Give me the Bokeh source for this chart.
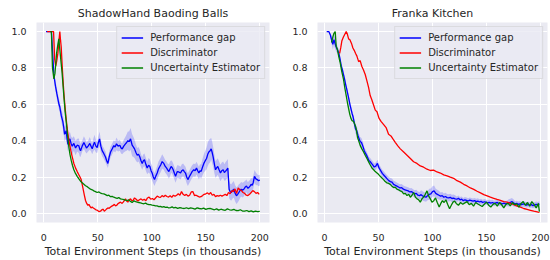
from bokeh.plotting import figure
from bokeh.layouts import row
from bokeh.models import Legend, LegendItem, Range1d, FixedTicker, NumeralTickFormatter, ColumnDataSource
from bokeh.embed import file_html
from bokeh.resources import INLINE

# ---------------- ShadowHand Baoding Balls ----------------
LB_X = [2, 4, 6, 7, 8, 9.3, 10.8, 12, 13, 14,
        14.8, 16.1, 17.6, 18.5, 19.2, 20.7, 21.5, 22.3, 23.2, 24.1,
        25.2, 26.3, 27.8, 29.4, 30.9, 32.4, 33.2, 34.0, 35.5, 37.1,
        38.3, 39.5, 41, 42.6, 43.7, 44.8, 45.8, 46.9, 48.2, 49.4,
        50.5, 51.6, 52.8, 54.0, 55.5, 57.1, 58.2, 59.3, 60.5, 61.8,
        63.3, 64.8, 66, 67.3, 68.8, 70.4, 71.5, 72.6, 74, 75.6,
        76.7, 77.8, 79, 80.3, 81.8, 83, 84.0, 85.3, 86.5, 87.7,
        88.9, 90, 91.1, 92.2, 93.2, 94.5, 95.7, 97, 98.2, 99.3,
        100.3, 101.4, 102.5, 103.7, 105, 106.2, 107.4, 108.5, 109.6, 111.1,
        112.3, 113.6, 114.7, 115.8, 116.9, 117.9, 119, 119.8, 121, 122,
        123.5, 125, 126.6, 127.8, 129, 130.1, 131.2, 132.3, 133.4, 134.6,
        135.8, 137.3, 138.9, 140.1, 141.4, 142.5, 143.6, 144.6, 145.7, 147,
        148.2, 149.5, 150.7, 151.8, 152.8, 154, 155, 155.9, 156.8, 158,
        159, 160, 161.1, 162.3, 163.6, 164.8, 166.1, 167.2, 168.2, 169.3,
        170.4, 171.6, 172.5, 173.5, 174.7, 175.9, 177.2, 178.4, 179.5, 180.6,
        181.7, 182.7, 184, 185.2, 186.5, 187.7, 188.8, 189.8, 191, 192,
        193, 193.9, 195.1, 196.4, 197.6, 198.8, 200]
LB_Y = [1.0, 1.0, 1.0, 1.0, 0.90, 0.76, 0.70, 0.66, 0.63, 0.60,
        0.585, 0.54, 0.505, 0.47, 0.435, 0.455, 0.41, 0.38, 0.40, 0.41,
        0.385, 0.37, 0.385, 0.36, 0.375, 0.372, 0.355, 0.345, 0.37, 0.39,
        0.375, 0.36, 0.37, 0.385, 0.37, 0.355, 0.375, 0.392, 0.37, 0.362,
        0.39, 0.41, 0.37, 0.345, 0.33, 0.31, 0.29, 0.275, 0.31, 0.338,
        0.355, 0.373, 0.365, 0.383, 0.37, 0.375, 0.36, 0.355, 0.37, 0.382,
        0.39, 0.40, 0.395, 0.41, 0.375, 0.365, 0.355, 0.335, 0.32, 0.325,
        0.31, 0.29, 0.275, 0.29, 0.295, 0.27, 0.25, 0.265, 0.258, 0.235,
        0.222, 0.2, 0.186, 0.205, 0.222, 0.245, 0.258, 0.27, 0.285, 0.275,
        0.26, 0.25, 0.24, 0.23, 0.245, 0.258, 0.25, 0.24, 0.22, 0.204,
        0.23, 0.228, 0.222, 0.235, 0.24, 0.23, 0.222, 0.2, 0.186, 0.2,
        0.213, 0.23, 0.24, 0.235, 0.249, 0.235, 0.222, 0.235, 0.231, 0.255,
        0.275, 0.29, 0.302, 0.325, 0.338, 0.345, 0.355, 0.335, 0.311, 0.27,
        0.24, 0.25, 0.258, 0.24, 0.222, 0.235, 0.24, 0.225, 0.231, 0.24,
        0.249, 0.133, 0.12, 0.115, 0.125, 0.133, 0.11, 0.097, 0.105, 0.115,
        0.125, 0.133, 0.128, 0.133, 0.145, 0.151, 0.138, 0.142, 0.15, 0.16,
        0.155, 0.169, 0.204, 0.19, 0.186, 0.18, 0.183]
LB_SD = [0, 0, 0, 0, 0.02, 0.03, 0.03, 0.03, 0.03, 0.03,
         0.03, 0.035, 0.04, 0.04, 0.04, 0.04, 0.04, 0.04, 0.04, 0.04,
         0.04, 0.045, 0.04, 0.04, 0.035, 0.04, 0.04, 0.035, 0.03, 0.035,
         0.035, 0.03, 0.03, 0.035, 0.03, 0.03, 0.035, 0.04, 0.035, 0.03,
         0.035, 0.04, 0.035, 0.03, 0.03, 0.03, 0.025, 0.025, 0.03, 0.03,
         0.03, 0.03, 0.03, 0.035, 0.03, 0.03, 0.03, 0.03, 0.035, 0.04,
         0.045, 0.05, 0.055, 0.06, 0.06, 0.055, 0.05, 0.045, 0.04, 0.04,
         0.04, 0.035, 0.035, 0.035, 0.035, 0.035, 0.035, 0.04, 0.04, 0.04,
         0.04, 0.035, 0.035, 0.035, 0.04, 0.04, 0.04, 0.04, 0.04, 0.035,
         0.035, 0.035, 0.035, 0.04, 0.04, 0.035, 0.035, 0.035, 0.035, 0.035,
         0.035, 0.035, 0.035, 0.035, 0.035, 0.035, 0.035, 0.035, 0.035, 0.035,
         0.035, 0.035, 0.035, 0.035, 0.035, 0.035, 0.035, 0.035, 0.04, 0.045,
         0.05, 0.055, 0.06, 0.065, 0.065, 0.065, 0.06, 0.06, 0.055, 0.05,
         0.045, 0.045, 0.045, 0.045, 0.045, 0.045, 0.045, 0.045, 0.05, 0.05,
         0.05, 0.05, 0.045, 0.045, 0.045, 0.045, 0.045, 0.045, 0.045, 0.045,
         0.04, 0.04, 0.04, 0.04, 0.035, 0.035, 0.035, 0.035, 0.035, 0.035,
         0.035, 0.035, 0.035, 0.035, 0.03, 0.03, 0.03]

LR_X = [3, 6, 9, 10, 11, 12, 13, 14, 14.8, 15.5,
        16.1, 17, 17.9, 18.7, 19.5, 20.5, 21.6, 22.7, 23.8, 25,
        26.3, 27.8, 29.4, 30.9, 32.4, 33.5, 34.6, 35.5, 36.4, 37.5,
        38.6, 39.7, 40.8, 41.7, 42.6, 43.7, 44.8, 45.8, 46.9, 48.2,
        49.4, 51, 52.5, 53.7, 55, 56, 57.1, 58.2, 59.3, 60.5,
        61.8, 63, 64.2, 65.3, 66.4, 67.5, 68.6, 69.8, 71, 72.2,
        73.5, 74.5, 75.6, 76.7, 77.8, 79, 80.3, 81.5, 82.7, 84,
        85.5, 87, 88.5, 90, 91.5, 93, 94.5, 96, 97.5, 99,
        100.5, 102, 103.5, 105, 106.5, 108, 109.5, 111, 112.5, 114,
        115.5, 117, 118.5, 120, 121.5, 123, 124.5, 126, 127.5, 129,
        130.5, 132, 133.5, 135, 136.5, 138, 139.5, 141, 142.5, 144,
        145.5, 147, 148.5, 150, 151.5, 153, 154.5, 156, 157.5, 159,
        160.5, 162, 163.5, 165, 166.5, 168, 169.5, 171, 172.5, 174,
        175.5, 177, 178.5, 180, 181.5, 183, 184.5, 186, 187.5, 189,
        190.5, 192, 193.5, 195, 196.5, 198, 199.5]
LR_Y = [1.0, 1.0, 1.0, 0.85, 0.81, 0.84, 0.88, 0.95, 1.0, 0.95,
        0.915, 0.81, 0.72, 0.65, 0.595, 0.53, 0.47, 0.42, 0.382, 0.345,
        0.311, 0.275, 0.249, 0.23, 0.213, 0.2, 0.186, 0.16, 0.133, 0.1,
        0.071, 0.055, 0.044, 0.05, 0.04, 0.03, 0.035, 0.03, 0.026, 0.02,
        0.018, 0.01, 0.012, 0.02, 0.023, 0.012, 0.018, 0.025, 0.03, 0.028,
        0.035, 0.04, 0.044, 0.05, 0.041, 0.045, 0.053, 0.058, 0.062, 0.055,
        0.062, 0.07, 0.08, 0.068, 0.062, 0.075, 0.08, 0.07, 0.072, 0.085,
        0.078, 0.068, 0.075, 0.08, 0.072, 0.078, 0.07, 0.085, 0.09, 0.078,
        0.082, 0.075, 0.085, 0.095, 0.09, 0.088, 0.098, 0.092, 0.1, 0.093,
        0.09, 0.097, 0.088, 0.1, 0.094, 0.1, 0.108, 0.1, 0.12, 0.105,
        0.098, 0.105, 0.095, 0.1, 0.118, 0.12, 0.098, 0.1, 0.095, 0.09,
        0.092, 0.098, 0.105, 0.108, 0.113, 0.105, 0.115, 0.1, 0.105, 0.092,
        0.098, 0.095, 0.1, 0.095, 0.1, 0.105, 0.098, 0.115, 0.108, 0.125,
        0.12, 0.135, 0.11, 0.14, 0.13, 0.125, 0.115, 0.11, 0.1, 0.098,
        0.105, 0.115, 0.125, 0.12, 0.11, 0.115, 0.105]

LG_X = [6, 7, 8, 9.3, 10.3, 11.8, 13, 13.9, 14.8, 15.8,
        16.8, 17.7, 18.5, 19.7, 21.0, 22.1, 23.2, 24.2, 25.3, 26.5,
        27.8, 29.3, 30.9, 32.5, 34.0, 35.5, 37.1, 38.6, 40.2, 41.7,
        43.2, 44.8, 46.3, 47.8, 49.4, 51, 52.5, 54, 55.6, 57.1,
        58.7, 60.2, 61.8, 63.3, 64.8, 66.4, 67.9, 69.4, 71, 72.5,
        74.1, 75.6, 77.2, 78.7, 80.3, 81.8, 83.4, 85, 86.5, 88,
        89.5, 91, 92.6, 94.2, 95.7, 97.3, 98.8, 100.3, 101.9, 103.4,
        104.9, 106.5, 108, 109.6, 111.1, 112.6, 114.2, 115.7, 117.3, 118.8,
        120.4, 122, 124, 126, 128, 130, 132, 134, 136, 138,
        140, 142, 144, 146, 148, 150, 152, 154, 156, 158,
        160, 162, 164, 166, 168, 170, 172, 174, 176, 178,
        180, 182, 184, 186, 188, 190, 192, 194, 196, 198, 200]
LG_Y = [1.0, 1.0, 0.80, 0.74, 0.77, 0.88, 0.93, 0.96, 0.90, 0.84,
        0.78, 0.71, 0.648, 0.56, 0.488, 0.42, 0.364, 0.325, 0.293, 0.265,
        0.24, 0.22, 0.204, 0.19, 0.177, 0.168, 0.16, 0.152, 0.147, 0.14,
        0.133, 0.13, 0.124, 0.12, 0.115, 0.118, 0.112, 0.109, 0.107, 0.103,
        0.098, 0.1, 0.092, 0.094, 0.089, 0.086, 0.083, 0.087, 0.08, 0.078,
        0.076, 0.073, 0.071, 0.074, 0.066, 0.06, 0.069, 0.065, 0.062, 0.06,
        0.058, 0.055, 0.053, 0.057, 0.051, 0.048, 0.048, 0.046, 0.044, 0.042,
        0.041, 0.037, 0.039, 0.035, 0.037, 0.033, 0.035, 0.03, 0.032, 0.036,
        0.03, 0.033, 0.028, 0.032, 0.029, 0.027, 0.031, 0.026, 0.03, 0.028,
        0.024, 0.03, 0.027, 0.025, 0.029, 0.022, 0.026, 0.028, 0.024, 0.02,
        0.025, 0.018, 0.023, 0.02, 0.017, 0.025, 0.02, 0.018, 0.022, 0.016,
        0.015, 0.02, 0.013, 0.012, 0.016, 0.01, 0.014, 0.008, 0.012, 0.01, 0.011]

# ---------------- Franka Kitchen ----------------
RB_X = [2, 4, 5.5, 6.5, 7.7, 8.7, 9.5, 10.8, 12, 13.3,
        14.5, 15.5, 16.5, 17.5, 18.5, 19.5, 20.5, 21.6, 22.5, 23.5,
        24.5, 25.5, 26.5, 27.5, 28.7, 29.8, 30.9, 32, 33, 34.2,
        35.5, 36.8, 38, 39, 40.1, 41.2, 42.3, 43.5, 44.8, 46,
        47.5, 49, 50.5, 52, 53.5, 55, 56.5, 58, 59.5, 61,
        62.5, 64, 65.5, 67, 68.5, 70, 71.5, 73, 74.5, 76,
        77.5, 79, 80.5, 82, 83.5, 85, 86.5, 88, 89.5, 91,
        92.5, 94, 95.5, 97, 98.5, 100, 101.5, 103, 104.5, 106,
        107.5, 109, 110.5, 112, 113.5, 115, 116.5, 118, 119.5, 121,
        122.5, 124, 125.5, 127, 128.5, 130, 131.5, 133, 134.5, 136,
        137.5, 139, 140.5, 142, 143.5, 145, 146.5, 148, 149.5, 151,
        152.5, 154, 155.5, 157, 158.5, 160, 161.5, 163, 164.5, 166,
        167.5, 169, 170.5, 172, 173.5, 175, 176.5, 178, 179.5, 181,
        182.5, 184, 185.5, 187, 188.5, 190, 191.5, 193, 194.5, 196, 197.5, 199]
RB_Y = [1.0, 1.0, 0.98, 0.955, 0.93, 0.955, 0.94, 0.915, 0.9, 0.88,
        0.845, 0.81, 0.79, 0.765, 0.74, 0.71, 0.685, 0.655, 0.63, 0.6,
        0.575, 0.55, 0.53, 0.5, 0.465, 0.455, 0.43, 0.41, 0.395, 0.39,
        0.37, 0.345, 0.33, 0.32, 0.305, 0.29, 0.285, 0.275, 0.265, 0.255,
        0.26, 0.275, 0.25, 0.235, 0.22, 0.21, 0.2, 0.19, 0.18, 0.175,
        0.172, 0.16, 0.155, 0.15, 0.145, 0.14, 0.142, 0.133, 0.13, 0.127,
        0.124, 0.118, 0.12, 0.113, 0.107, 0.11, 0.1, 0.098, 0.103, 0.095,
        0.092, 0.089, 0.098, 0.105, 0.107, 0.12, 0.124, 0.11, 0.105, 0.1,
        0.095, 0.098, 0.089, 0.093, 0.087, 0.085, 0.088, 0.082, 0.084, 0.08,
        0.078, 0.083, 0.075, 0.078, 0.07, 0.075, 0.072, 0.068, 0.073, 0.07,
        0.067, 0.07, 0.065, 0.068, 0.063, 0.066, 0.06, 0.064, 0.062, 0.058,
        0.061, 0.057, 0.06, 0.055, 0.058, 0.06, 0.054, 0.057, 0.052, 0.056,
        0.053, 0.055, 0.058, 0.06, 0.065, 0.058, 0.052, 0.055, 0.05, 0.053,
        0.048, 0.052, 0.05, 0.046, 0.05, 0.045, 0.048, 0.043, 0.046, 0.05, 0.048, 0.052]
RB_SD = [0, 0, 0.01, 0.02, 0.03, 0.03, 0.03, 0.025, 0.02, 0.02,
         0.02, 0.02, 0.02, 0.02, 0.02, 0.02, 0.02, 0.02, 0.02, 0.02,
         0.02, 0.02, 0.02, 0.025, 0.025, 0.025, 0.025, 0.025, 0.025, 0.025,
         0.025, 0.02, 0.02, 0.02, 0.02, 0.02, 0.02, 0.02, 0.02, 0.02,
         0.02, 0.02, 0.02, 0.02, 0.02, 0.02, 0.02, 0.02, 0.02, 0.02,
         0.02, 0.02, 0.02, 0.02, 0.02, 0.02, 0.02, 0.02, 0.02, 0.02,
         0.02, 0.02, 0.02, 0.02, 0.02, 0.02, 0.02, 0.02, 0.025, 0.025,
         0.025, 0.025, 0.025, 0.03, 0.03, 0.03, 0.03, 0.025, 0.025, 0.025,
         0.02, 0.02, 0.02, 0.02, 0.02, 0.02, 0.02, 0.02, 0.02, 0.02,
         0.015, 0.015, 0.015, 0.015, 0.015, 0.015, 0.015, 0.015, 0.015, 0.015,
         0.015, 0.015, 0.015, 0.015, 0.015, 0.015, 0.015, 0.015, 0.015, 0.015,
         0.015, 0.015, 0.015, 0.015, 0.015, 0.015, 0.015, 0.015, 0.015, 0.015,
         0.015, 0.015, 0.02, 0.02, 0.02, 0.02, 0.015, 0.015, 0.015, 0.015,
         0.015, 0.015, 0.015, 0.015, 0.015, 0.015, 0.015, 0.015, 0.015, 0.015, 0.015, 0.015]

RR_X = [14, 15, 16.1, 17.5, 18.8, 20.1, 21.2, 22.3, 23.5, 25,
        26.3, 27.5, 28.8, 30, 31.6, 33, 34.6, 36, 37.7, 39.2,
        40.8, 42.3, 43.8, 45.5, 47, 48.6, 50.4, 52.3, 54.8, 57.2,
        59.3, 61.5, 63.5, 65.5, 67.7, 70.2, 73.3, 76.4, 79.5, 82.5,
        85.6, 88.7, 91.8, 94.9, 98, 101, 104.2, 107.3, 110.4, 113.5,
        116.5, 119.6, 122.7, 125.8, 128.9, 132, 135.1, 138.2, 141.3, 144.4,
        147.5, 150.6, 153.6, 156.7, 159.8, 162.9, 166, 169.1, 172.2, 175.3,
        178.4, 181.5, 184.5, 187.6, 190.7, 193.8, 196.9, 199]
RR_Y = [0.88, 0.91, 0.95, 0.97, 0.985, 1.0, 0.985, 0.96, 0.955, 0.935,
        0.91, 0.897, 0.88, 0.865, 0.835, 0.84, 0.808, 0.79, 0.764, 0.73,
        0.693, 0.648, 0.625, 0.595, 0.568, 0.559, 0.524, 0.506, 0.488, 0.47,
        0.435, 0.426, 0.408, 0.391, 0.373, 0.355, 0.338, 0.32, 0.302, 0.284,
        0.275, 0.261, 0.254, 0.243, 0.236, 0.238, 0.228, 0.222, 0.212, 0.207,
        0.2, 0.193, 0.18, 0.172, 0.16, 0.151, 0.14, 0.132, 0.122, 0.113,
        0.103, 0.096, 0.089, 0.083, 0.077, 0.072, 0.065, 0.062, 0.055, 0.048,
        0.04, 0.034, 0.027, 0.022, 0.017, 0.012, 0.009, 0.005]

RG_X = [6.5, 7.7, 8.7, 9.9, 10.8, 12, 13.3, 14.6, 16, 17.6,
        18.8, 20.1, 21.2, 22.3, 23.4, 24.4, 25.5, 26.9, 28, 29.2,
        30.6, 31.9, 33.1, 34.6, 36.2, 37.7, 39.3, 40.8, 42.4, 43.9,
        45.5, 47, 48.6, 50, 51.6, 53.2, 54.7, 56.2, 57.8, 59.3,
        60.9, 62.4, 64, 65.5, 67, 68.6, 70.2, 71.7, 73.3, 74.8,
        76.4, 78, 79.5, 81, 82.6, 84.1, 85.7, 87.2, 88.7, 90.2,
        91.8, 93.3, 94.9, 96.5, 98, 99.5, 101.2, 102.8, 104.4, 106.2,
        107.7, 109.2, 110.8, 112.4, 114, 115.8, 117.4, 119, 120.5, 122,
        124, 126, 128, 130, 132, 134, 136, 138, 140, 142,
        144, 146, 148, 150, 152, 154, 156, 158, 160, 162,
        164, 166, 168, 170, 172, 174, 176, 178, 180, 182,
        184, 186, 188, 190, 192, 194, 196, 198, 199]
RG_Y = [0.94, 0.97, 0.99, 1.0, 0.92, 0.9, 0.86, 0.826, 0.78, 0.737,
        0.69, 0.648, 0.61, 0.577, 0.545, 0.524, 0.51, 0.506, 0.49, 0.47,
        0.417, 0.395, 0.373, 0.355, 0.338, 0.32, 0.302, 0.285, 0.266, 0.25,
        0.24, 0.23, 0.222, 0.215, 0.204, 0.195, 0.186, 0.175, 0.168, 0.165,
        0.16, 0.15, 0.142, 0.145, 0.133, 0.13, 0.124, 0.12, 0.107, 0.11,
        0.098, 0.105, 0.089, 0.1, 0.115, 0.09, 0.08, 0.075, 0.062, 0.08,
        0.09, 0.105, 0.124, 0.095, 0.08, 0.062, 0.07, 0.085, 0.06, 0.035,
        0.055, 0.07, 0.06, 0.075, 0.05, 0.026, 0.045, 0.062, 0.068, 0.055,
        0.045, 0.06, 0.05, 0.058, 0.065, 0.048, 0.055, 0.04, 0.06, 0.052,
        0.045, 0.038, 0.05, 0.062, 0.045, 0.035, 0.05, 0.055, 0.04, 0.06,
        0.048, 0.03, 0.05, 0.055, 0.042, 0.06, 0.048, 0.052, 0.035, 0.055,
        0.065, 0.045, 0.06, 0.04, 0.065, 0.05, 0.03, 0.055, 0.01]

TITLES = ["ShadowHand Baoding Balls", "Franka Kitchen"]
X_TICKS = [0, 50, 100, 150, 200]
Y_TICKS = [0.0, 0.2, 0.4, 0.6, 0.8, 1.0]
LABELS = ["Performance gap", "Discriminator", "Uncertainty Estimator"]
X_LABEL = "Total Environment Steps (in thousands)"

BG = "#EAEAF2"
TXT = "#262626"
FONT = "DejaVu Sans"


def make_fig(title, xr, width, mbl, mbr, bx, by, bsd, rx, ry, gx, gy):
    p = figure(width=width, height=260, x_range=Range1d(*xr), y_range=Range1d(-0.05, 1.05),
               output_backend="svg", toolbar_location=None,
               min_border_left=mbl, min_border_right=mbr, min_border_top=22, min_border_bottom=36)
    p.background_fill_color = BG
    p.border_fill_color = "white"
    p.outline_line_color = None
    p.title.text = title
    p.title.align = "center"
    p.title.text_font = FONT
    p.title.text_font_size = "11px"
    p.title.text_font_style = "normal"
    p.title.text_color = TXT
    p.title.text_line_height = 0.8
    p.title.standoff = 6
    p.xaxis.ticker = FixedTicker(ticks=X_TICKS)
    p.yaxis.ticker = FixedTicker(ticks=Y_TICKS)
    p.xgrid.ticker = FixedTicker(ticks=X_TICKS)
    p.ygrid.ticker = FixedTicker(ticks=Y_TICKS)
    p.yaxis.formatter = NumeralTickFormatter(format="0.0")
    p.grid.grid_line_color = "white"
    p.grid.grid_line_width = 1
    p.axis.axis_line_color = None
    p.axis.major_tick_line_color = None
    p.axis.minor_tick_line_color = None
    p.axis.major_tick_out = 0
    p.axis.major_tick_in = 0
    p.axis.major_label_text_font = FONT
    p.axis.major_label_text_font_size = "9.5px"
    p.axis.major_label_text_color = TXT
    p.yaxis.major_label_standoff = 10
    p.xaxis.major_label_standoff = 11
    p.xaxis.axis_label = X_LABEL
    p.xaxis.axis_label_text_font = FONT
    p.xaxis.axis_label_text_font_size = "11px"
    p.xaxis.axis_label_text_font_style = "normal"
    p.xaxis.axis_label_text_color = TXT
    p.xaxis.axis_label_standoff = 1

    lo = [y - s for y, s in zip(by, bsd)]
    hi = [y + s for y, s in zip(by, bsd)]
    src = ColumnDataSource(dict(x=bx, y=by, lo=lo, hi=hi))
    p.varea(x="x", y1="lo", y2="hi", source=src, fill_color="blue", fill_alpha=0.2)
    lb = p.line(x="x", y="y", source=src, line_color="blue", line_width=1.3)
    lr = p.line(rx, ry, line_color="red", line_width=1.3)
    lg = p.line(gx, gy, line_color="green", line_width=1.3)

    legend = Legend(items=[LegendItem(label=LABELS[0], renderers=[lb]),
                           LegendItem(label=LABELS[1], renderers=[lr]),
                           LegendItem(label=LABELS[2], renderers=[lg])],
                    location="top_right")
    legend.margin = 4
    legend.padding = 4
    legend.spacing = 2
    legend.glyph_width = 22
    legend.glyph_height = 13
    legend.label_height = 13
    legend.label_standoff = 7
    legend.label_text_font = FONT
    legend.label_text_font_size = "10px"
    legend.label_text_color = TXT
    legend.background_fill_color = BG
    legend.background_fill_alpha = 0.8
    legend.border_line_color = "#cccccc"
    legend.border_line_width = 1
    p.add_layout(legend)
    return p


p1 = make_fig(TITLES[0], (-6.8, 209), 275, 36, 6, LB_X, LB_Y, LB_SD, LR_X, LR_Y, LG_X, LG_Y)
p2 = make_fig(TITLES[1], (-6.5, 206.5), 275, 42, 3, RB_X, RB_Y, RB_SD, RR_X, RR_Y, RG_X, RG_Y)

layout = row(p1, p2)
open("out.html", "w").write(file_html(layout, INLINE))
